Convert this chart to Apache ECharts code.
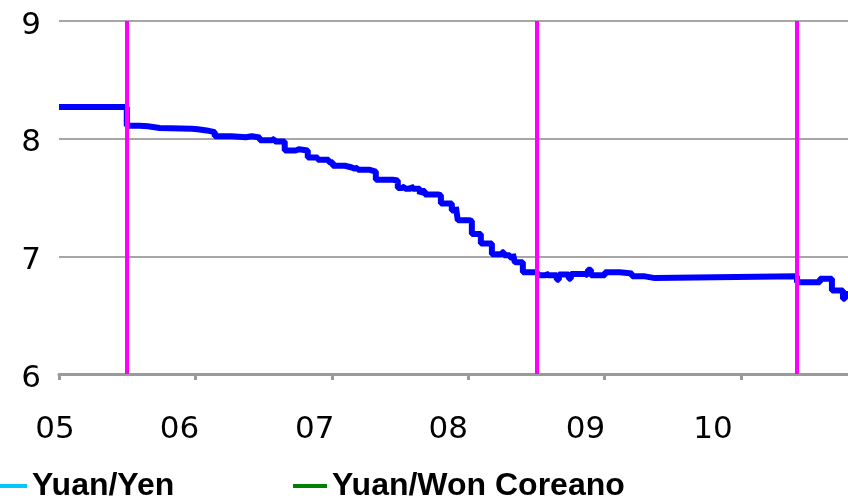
<!DOCTYPE html>
<html>
<head>
<meta charset="utf-8">
<script src="https://cdn.jsdelivr.net/npm/echarts@6/dist/echarts.min.js"></script>
<style>
html, body { margin: 0; padding: 0; background: #ffffff; }
#chart { width: 848px; height: 501px; }
</style>
</head>
<body>
<div id="chart"></div>
<script>
// ---- data ----
const stepYears = [
  2005.000, 2005.497, 2005.592, 2005.651, 2005.739, 2005.973, 2006.017, 2006.083, 2006.142, 2006.267,
  2006.369, 2006.413, 2006.472, 2006.560, 2006.582, 2006.655, 2006.736, 2006.758, 2006.824, 2006.897,
  2006.978, 2007.007, 2007.096, 2007.147, 2007.169, 2007.191, 2007.279, 2007.323, 2007.448, 2007.484,
  2007.514, 2007.536, 2007.580, 2007.594, 2007.646, 2007.660, 2007.682, 2007.778, 2007.800, 2007.880,
  2007.910, 2007.924, 2008.012, 2008.027, 2008.093, 2008.174, 2008.247, 2008.262, 2008.306, 2008.328,
  2008.342, 2008.401, 2008.489, 2008.511, 2008.570, 2008.584, 2008.650, 2008.665, 2008.738, 2008.753,
  2008.856, 2008.878, 2008.900, 2009.003, 2009.112, 2009.201, 2009.296, 2009.369, 2010.411, 2010.579,
  2010.667, 2010.748, 2010.763, 2010.785
];
const yuanPerDollar = [
  8.27, 8.11, 8.105, 8.09, 8.085, 8.08, 8.07, 8.056, 8.02, 8.012,
  8.02, 8.01, 7.986, 8.0, 7.975, 7.90, 7.91, 7.90, 7.84, 7.82,
  7.80, 7.77, 7.755, 7.745, 7.755, 7.735, 7.72, 7.65, 7.645, 7.58,
  7.595, 7.575, 7.60, 7.575, 7.53, 7.555, 7.525, 7.52, 7.45, 7.39,
  7.42, 7.306, 7.30, 7.19, 7.11, 7.017, 7.035, 7.01, 6.99, 7.02,
  6.95, 6.865, 6.858, 6.84, 6.86, 6.84, 6.80, 6.845, 6.81, 6.85,
  6.84, 6.885, 6.84, 6.865, 6.855, 6.83, 6.815, 6.83, 6.78, 6.81,
  6.71, 6.64, 6.68, 6.68
];
const eventYears = [2005.50, 2008.504, 2010.414];
const xTickYears = [2005, 2006, 2007, 2008, 2009, 2010];
const xTickLabels = ['05', '06', '07', '08', '09', '10'];
const xLabelShift = [4, 16, 17, 20, 19, 28];
const yTicks = [6, 7, 8, 9];
const mainSeriesName = 'Yuan/Dólar';
const legendNames = ['Yuan/Yen', 'Yuan/Won Coreano'];
const legendColors = ['#00c8ff', '#008000'];

// ---- chart ----
const chart = echarts.init(document.getElementById('chart'), null, { renderer: 'canvas' });

const rich = {};
xTickLabels.forEach((t, i) => {
  rich['s' + i] = {
    fontFamily: 'DejaVu Sans',
    fontSize: 31,
    color: '#000000',
    padding: [0, 2 * xLabelShift[i], 0, 0]
  };
});

const legendText = { fontFamily: 'Liberation Sans', fontWeight: 'bold', fontSize: 32, color: '#000', lineHeight: 36 };

const option = {
  animation: false,
  backgroundColor: '#ffffff',
  grid: { left: 59, right: 0, top: 21, bottom: 127, containLabel: false },
  legend: [
    {
      left: -7, top: 468, padding: 0,
      data: [legendNames[0]],
      icon: 'rect', itemWidth: 34, itemHeight: 4, itemGap: 6,
      textStyle: legendText
    },
    {
      left: 293, top: 468, padding: 0,
      data: [legendNames[1]],
      icon: 'rect', itemWidth: 34, itemHeight: 4, itemGap: 6,
      textStyle: legendText
    }
  ],
  xAxis: {
    type: 'value',
    min: xTickYears[0],
    max: stepYears[stepYears.length - 1],
    interval: 1,
    splitLine: { show: false },
    axisLine: { show: true, onZero: false, lineStyle: { color: '#9a9a9a', width: 3 } },
    axisTick: {
      show: true, inside: false, length: 6,
      customValues: xTickYears,
      lineStyle: { color: '#9a9a9a', width: 3 }
    },
    axisLabel: {
      show: true, margin: 40,
      customValues: xTickYears,
      formatter: function (v) {
        const i = xTickYears.indexOf(Math.round(v));
        return i >= 0 ? '{s' + i + '|' + xTickLabels[i] + '}' : '';
      },
      rich: rich,
      fontFamily: 'DejaVu Sans', fontSize: 31, color: '#000'
    }
  },
  yAxis: {
    type: 'value',
    min: yTicks[0],
    max: yTicks[yTicks.length - 1],
    interval: 1,
    axisLine: { show: false },
    axisTick: { show: false },
    splitLine: { show: true, lineStyle: { color: '#a6a6a6', width: 2 } },
    axisLabel: {
      margin: 18,
      formatter: function (v) { return '{y|' + v + '}'; },
      rich: { y: { fontFamily: 'DejaVu Sans', fontSize: 31, color: '#000', padding: [9, 0, 0, 0] } },
      fontFamily: 'DejaVu Sans', fontSize: 31, color: '#000'
    }
  },
  series: [
    {
      name: mainSeriesName,
      type: 'line',
      step: 'end',
      showSymbol: false,
      symbol: 'none',
      data: stepYears.map((x, i) => [x, yuanPerDollar[i]]),
      lineStyle: { color: '#0000ff', width: 6 },
      itemStyle: { color: '#0000ff' },
      z: 3
    },
    {
      name: legendNames[0],
      type: 'line',
      data: [],
      lineStyle: { color: legendColors[0], width: 4 },
      itemStyle: { color: legendColors[0] }
    },
    {
      name: legendNames[1],
      type: 'line',
      data: [],
      lineStyle: { color: legendColors[1], width: 4 },
      itemStyle: { color: legendColors[1] }
    },
    {
      name: 'events',
      type: 'line',
      data: [],
      z: 5,
      markLine: {
        silent: true,
        symbol: ['none', 'none'],
        label: { show: false },
        lineStyle: { color: '#ff00ff', width: 4, type: 'solid' },
        data: eventYears.map(y => ({ xAxis: y }))
      }
    }
  ]
};

chart.setOption(option);
</script>
</body>
</html>
